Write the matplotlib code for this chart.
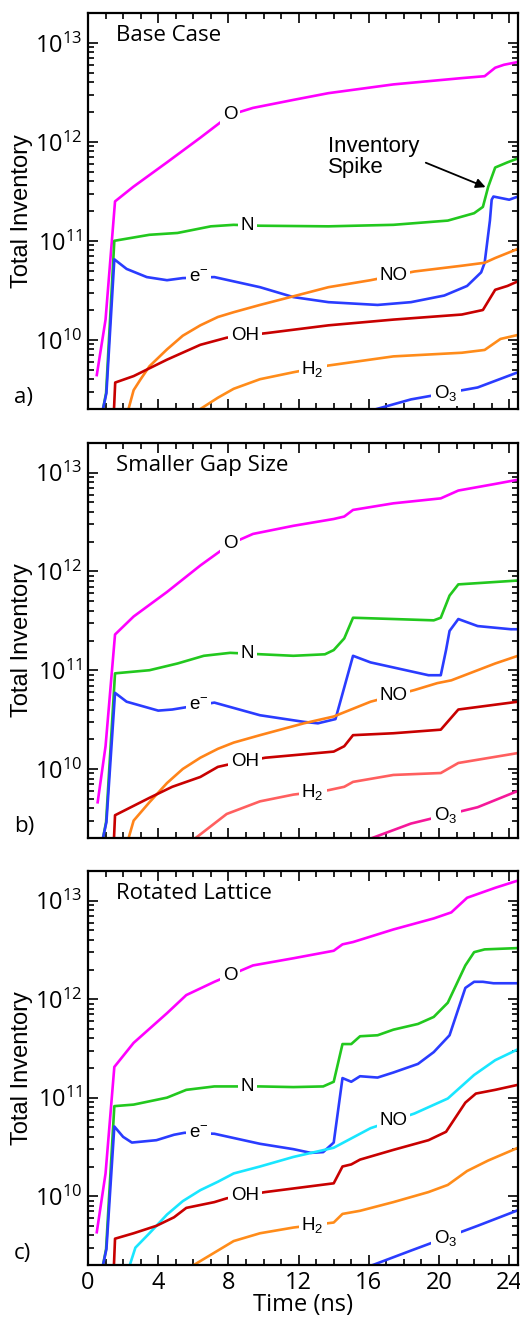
import numpy as np
import matplotlib
matplotlib.use("Agg")
import matplotlib.pyplot as plt
from matplotlib.ticker import LogLocator, MultipleLocator, FixedLocator, NullFormatter

plt.rcParams['mathtext.default'] = 'regular'

# ---------------- data ----------------
# Panel a) Base Case
a_O_t = [0.5, 1.0, 1.54, 2.57, 4.5, 6.4, 8.1, 9.4, 11.7, 13.7, 17.4, 21.3, 22.6, 23.2, 23.7, 24.5]
a_O_v = [4.4e9, 1.6e10, 2.5e11, 3.5e11, 6.2e11, 1.1e12, 1.87e12, 2.2e12, 2.65e12, 3.1e12, 3.8e12, 4.4e12, 4.6e12, 5.6e12, 6.0e12, 6.4e12]
a_N_t = [0.75, 1.03, 1.5, 3.5, 5.1, 7.0, 8.3, 9.8, 13.7, 17.4, 20.5, 22.0, 22.5, 22.8, 23.2, 23.9, 24.5]
a_N_v = [1.6e9, 2.9e9, 1.0e11, 1.15e11, 1.2e11, 1.4e11, 1.45e11, 1.42e11, 1.4e11, 1.45e11, 1.6e11, 1.9e11, 2.2e11, 3.5e11, 5.5e11, 6.2e11, 6.8e11]
a_e_t = [0.8, 1.05, 1.5, 2.2, 3.35, 4.5, 5.4, 7.2, 9.8, 11.7, 13.7, 16.5, 18.4, 20.3, 21.6, 22.4, 22.6, 22.9, 23.0, 23.1, 24.0, 24.5]
a_e_v = [1.8e9, 2.9e9, 6.5e10, 5.2e10, 4.3e10, 4.0e10, 4.2e10, 4.3e10, 3.4e10, 2.7e10, 2.4e10, 2.25e10, 2.4e10, 2.8e10, 3.5e10, 4.8e10, 6.0e10, 1.6e11, 2.6e11, 2.8e11, 2.6e11, 2.8e11]
a_NO_t = [2.2, 2.6, 3.0, 3.5, 4.5, 5.4, 6.4, 7.4, 8.3, 9.8, 11.7, 13.7, 16.1, 18.6, 21.3, 22.6, 23.2, 24.5]
a_NO_v = [1.7e9, 3.1e9, 4.0e9, 5.4e9, 8.0e9, 1.1e10, 1.4e10, 1.7e10, 1.9e10, 2.25e10, 2.75e10, 3.4e10, 4.0e10, 4.9e10, 5.6e10, 6.0e10, 6.7e10, 8.3e10]
a_OH_t = [1.45, 1.55, 2.6, 4.5, 6.4, 7.9, 10.2, 13.7, 17.4, 21.3, 22.5, 23.2, 23.9, 24.5]
a_OH_v = [1.5e9, 3.7e9, 4.3e9, 6.3e9, 8.9e9, 1.05e10, 1.17e10, 1.4e10, 1.6e10, 1.8e10, 2.0e10, 3.2e10, 3.5e10, 3.9e10]
a_H2_t = [6.0, 7.4, 8.3, 9.8, 11.7, 13.7, 17.4, 21.3, 22.6, 23.5, 24.5]
a_H2_v = [1.8e9, 2.6e9, 3.2e9, 4.0e9, 4.7e9, 5.5e9, 6.8e9, 7.4e9, 7.9e9, 1.02e10, 1.12e10]
a_O3_t = [16.0, 18.4, 22.2, 24.5]
a_O3_v = [1.9e9, 2.5e9, 3.3e9, 4.7e9]

# Panel b) Smaller Gap Size
b_O_t = [0.55, 1.0, 1.54, 2.6, 4.5, 6.4, 8.1, 9.4, 11.7, 14.0, 14.6, 15.1, 17.4, 20.1, 21.1, 23.2, 24.5]
b_O_v = [4.6e9, 1.7e10, 2.3e11, 3.5e11, 6.2e11, 1.15e12, 1.9e12, 2.4e12, 2.9e12, 3.4e12, 3.6e12, 4.2e12, 4.9e12, 5.5e12, 6.6e12, 7.7e12, 8.5e12]
b_N_t = [0.75, 1.03, 1.54, 3.5, 5.1, 6.6, 8.1, 11.7, 13.5, 14.0, 14.6, 15.1, 17.4, 19.7, 20.1, 20.6, 21.1, 24.5]
b_N_v = [1.6e9, 2.9e9, 9.3e10, 1.0e11, 1.17e11, 1.4e11, 1.5e11, 1.4e11, 1.45e11, 1.6e11, 2.1e11, 3.4e11, 3.3e11, 3.2e11, 3.4e11, 5.7e11, 7.4e11, 8.1e11]
b_e_t = [0.8, 1.05, 1.54, 2.2, 4.0, 4.8, 7.2, 9.8, 12.3, 13.1, 14.1, 15.1, 16.1, 19.4, 20.1, 20.4, 20.6, 21.1, 22.2, 24.1, 24.5]
b_e_v = [1.8e9, 2.9e9, 5.9e10, 4.8e10, 3.9e10, 4.0e10, 4.7e10, 3.5e10, 3.0e10, 2.9e10, 3.2e10, 1.4e11, 1.2e11, 8.9e10, 8.9e10, 1.6e11, 2.5e11, 3.3e11, 2.8e11, 2.6e11, 2.6e11]
b_NO_t = [2.2, 2.6, 3.5, 4.5, 5.4, 6.4, 7.4, 8.3, 9.8, 12.3, 14.0, 16.1, 18.6, 19.9, 20.7, 23.2, 24.5]
b_NO_v = [1.7e9, 3.0e9, 4.6e9, 7.2e9, 1.0e10, 1.3e10, 1.6e10, 1.85e10, 2.2e10, 2.9e10, 3.4e10, 4.8e10, 6.3e10, 7.4e10, 7.9e10, 1.17e11, 1.4e11]
b_OH_t = [1.45, 1.54, 3.5, 4.8, 6.4, 7.4, 7.9, 10.1, 14.0, 14.6, 15.1, 17.4, 20.1, 21.1, 24.5]
b_OH_v = [1.5e9, 3.4e9, 5.1e9, 6.6e9, 8.3e9, 1.05e10, 1.1e10, 1.3e10, 1.5e10, 1.7e10, 2.2e10, 2.3e10, 2.5e10, 4.0e10, 4.8e10]
b_H2_t = [5.8, 7.9, 9.8, 11.7, 13.7, 14.6, 15.1, 17.4, 20.1, 21.1, 24.5]
b_H2_v = [1.8e9, 3.5e9, 4.7e9, 5.5e9, 6.1e9, 6.6e9, 7.4e9, 8.7e9, 9.1e9, 1.15e10, 1.45e10]
b_O3_t = [15.5, 18.4, 22.2, 24.5]
b_O3_v = [1.8e9, 2.8e9, 4.1e9, 6.0e9]

# Panel c) Rotated Lattice
c_O_t = [0.5, 1.0, 1.5, 2.6, 4.5, 5.6, 7.2, 9.4, 11.7, 14.0, 14.5, 15.1, 17.4, 19.7, 20.7, 21.6, 23.2, 24.5]
c_O_v = [4.3e9, 1.7e10, 2.05e11, 3.6e11, 7.2e11, 1.1e12, 1.5e12, 2.2e12, 2.6e12, 3.1e12, 3.6e12, 3.8e12, 5.1e12, 6.6e12, 7.6e12, 1.07e13, 1.35e13, 1.6e13]
c_N_t = [0.75, 1.03, 1.5, 2.6, 4.5, 5.6, 7.2, 9.8, 11.7, 13.4, 14.0, 14.5, 15.0, 15.5, 16.5, 17.4, 18.8, 19.7, 20.5, 21.5, 22.0, 22.6, 24.5]
c_N_v = [1.6e9, 2.9e9, 8.2e10, 8.5e10, 1.0e11, 1.2e11, 1.3e11, 1.3e11, 1.28e11, 1.3e11, 1.45e11, 3.5e11, 3.5e11, 4.2e11, 4.3e11, 4.9e11, 5.6e11, 6.6e11, 9.2e11, 2.2e12, 3.0e12, 3.2e12, 3.3e12]
c_e_t = [0.8, 1.05, 1.5, 2.0, 2.5, 3.9, 4.9, 5.5, 7.2, 9.8, 11.7, 12.7, 13.4, 14.0, 14.5, 15.0, 15.5, 16.5, 17.4, 18.8, 19.7, 20.6, 21.5, 22.0, 22.5, 23.1, 24.5]
c_e_v = [1.8e9, 2.9e9, 5.1e10, 4.0e10, 3.5e10, 3.7e10, 4.2e10, 4.4e10, 4.3e10, 3.4e10, 3.0e10, 2.75e10, 2.8e10, 3.5e10, 1.58e11, 1.45e11, 1.65e11, 1.6e11, 1.8e11, 2.2e11, 2.9e11, 4.3e11, 1.3e12, 1.5e12, 1.5e12, 1.45e12, 1.45e12]
c_NO_t = [2.3, 2.7, 3.5, 4.5, 5.4, 6.4, 7.4, 8.3, 9.8, 11.7, 14.0, 16.1, 18.6, 20.5, 22.0, 23.2, 24.5]
c_NO_v = [1.8e9, 3.0e9, 4.2e9, 6.5e9, 8.9e9, 1.15e10, 1.4e10, 1.7e10, 2.0e10, 2.5e10, 3.1e10, 4.9e10, 6.9e10, 9.8e10, 1.7e11, 2.4e11, 3.1e11]
c_OH_t = [1.45, 1.54, 2.6, 3.9, 4.9, 5.6, 7.2, 7.9, 10.1, 14.0, 14.5, 15.0, 15.5, 17.4, 19.4, 20.4, 21.5, 22.1, 23.2, 24.5]
c_OH_v = [1.5e9, 3.7e9, 4.2e9, 5.0e9, 6.1e9, 7.6e9, 8.7e9, 9.5e9, 1.1e10, 1.35e10, 2.0e10, 2.1e10, 2.35e10, 2.95e10, 3.7e10, 4.5e10, 8.9e10, 1.1e11, 1.2e11, 1.35e11]
c_H2_t = [5.6, 8.3, 9.8, 11.7, 14.0, 14.5, 15.5, 17.4, 19.4, 20.5, 21.6, 22.8, 24.5]
c_H2_v = [1.8e9, 3.5e9, 4.2e9, 4.8e9, 5.4e9, 6.6e9, 7.1e9, 8.7e9, 1.1e10, 1.3e10, 1.8e10, 2.3e10, 3.1e10]
c_O3_t = [15.9, 18.4, 22.2, 24.5]
c_O3_v = [1.9e9, 2.8e9, 5.0e9, 7.2e9]

species = ['O', 'N', 'e', 'NO', 'OH', 'H2', 'O3']
label_text = {'O': 'O', 'N': 'N', 'e': r'e$^{-}$', 'NO': 'NO', 'OH': 'OH',
              'H2': r'H$_2$', 'O3': r'O$_3$'}
label_x = {'O': 8.1, 'N': 9.1, 'e': 6.3, 'NO': 17.4, 'OH': 8.95, 'H2': 12.8, 'O3': 20.4}
panel_titles = ['Base Case', 'Smaller Gap Size', 'Rotated Lattice']
panel_letters = ['a)', 'b)', 'c)']
x_ticks = [0, 4, 8, 12, 16, 20, 24]
y_ticks = [1e10, 1e11, 1e12, 1e13]
y_tick_labels = [r'$10^{10}$', r'$10^{11}$', r'$10^{12}$', r'$10^{13}$']

g = globals()
panels = []
for p in 'abc':
    panels.append({s: (g[f'{p}_{s}_t'], g[f'{p}_{s}_v']) for s in species})

colors_a = {'O': '#ff00ff', 'N': '#22c81e', 'e': '#2a3cff', 'NO': '#ff8419',
            'OH': '#c80000', 'H2': '#ff8c1a', 'O3': '#2a3cff'}
colors_b = dict(colors_a, H2='#ff5f5f', O3='#f5189a')
colors_c = dict(colors_a, NO='#19e6ff')
panel_colors = [colors_a, colors_b, colors_c]

# ---------------- figure ----------------
W, H = 520, 1317
fig = plt.figure(figsize=(W / 100, H / 100), dpi=100)
boxes = [(13, 409), (443, 838), (871, 1265)]
left, right = 88, 518

tick_font = 'Open Sans'
lab_font = 'Liberation Sans'

for i, (top, bot) in enumerate(boxes):
    ax = fig.add_axes([left / W, 1 - bot / H, (right - left) / W, (bot - top) / H])
    ax.set_yscale('log')
    ax.set_xlim(0, 24.5)
    ax.set_ylim(2e9, 2e13)
    cols = panel_colors[i]
    data = panels[i]
    for s in species:
        t, v = data[s]
        ax.plot(t, v, color=cols[s], lw=1.9, zorder=2, solid_joinstyle='round')
        lx = label_x[s]
        ly = 10 ** np.interp(lx, t, np.log10(v))
        ax.text(lx, ly, label_text[s], fontsize=13.5, family=lab_font,
                ha='center', va='center', zorder=4,
                bbox=dict(facecolor='white', edgecolor='none', pad=2.0))

    ax.xaxis.set_major_locator(FixedLocator(x_ticks))
    ax.xaxis.set_minor_locator(MultipleLocator(1))
    ax.yaxis.set_major_locator(FixedLocator(y_ticks))
    ax.yaxis.set_minor_locator(LogLocator(base=10, subs=np.arange(2, 10), numticks=20))
    ax.yaxis.set_minor_formatter(NullFormatter())
    ax.set_yticklabels(y_tick_labels, family=tick_font, fontsize=17)
    if i == 2:
        ax.set_xticklabels([str(x) for x in x_ticks], family=tick_font, fontsize=17)
        ax.set_xlabel('Time (ns)', family=tick_font, fontsize=17)
        ax.xaxis.set_label_coords(0.5, -(1305 - 1265) / (bot - top))
        ax.xaxis.label.set_va('center')
    else:
        ax.set_xticklabels([])
    ax.tick_params(which='both', direction='in', top=True, right=True, width=1.2, pad=4)
    ax.tick_params(which='major', length=7)
    ax.tick_params(which='minor', length=4)
    for sp in ax.spines.values():
        sp.set_linewidth(1.6)

    ax.set_ylabel('Total Inventory', family=lab_font, fontsize=17)
    ax.yaxis.set_label_coords(-0.153, 0.5)
    ax.yaxis.label.set_va('center')

    ax.text(0.065, 0.942, panel_titles[i], transform=ax.transAxes, family=tick_font,
            fontsize=16, ha='left', va='center')
    ax.text(-0.172, 0.03, panel_letters[i], transform=ax.transAxes, family=tick_font,
            fontsize=16, ha='left', va='center')

    if i == 0:
        ax.text(13.7, 7.1e11, 'Inventory\nSpike', family=lab_font, fontsize=16,
                ha='left', va='center', linespacing=1.0, zorder=5)
        ax.annotate('', xy=(22.8, 3.4e11), xytext=(19.1, 6.3e11),
                    arrowprops=dict(arrowstyle='-|>', color='black', lw=1.3,
                                    mutation_scale=14), zorder=5)

fig.savefig('out.png', dpi=100)
